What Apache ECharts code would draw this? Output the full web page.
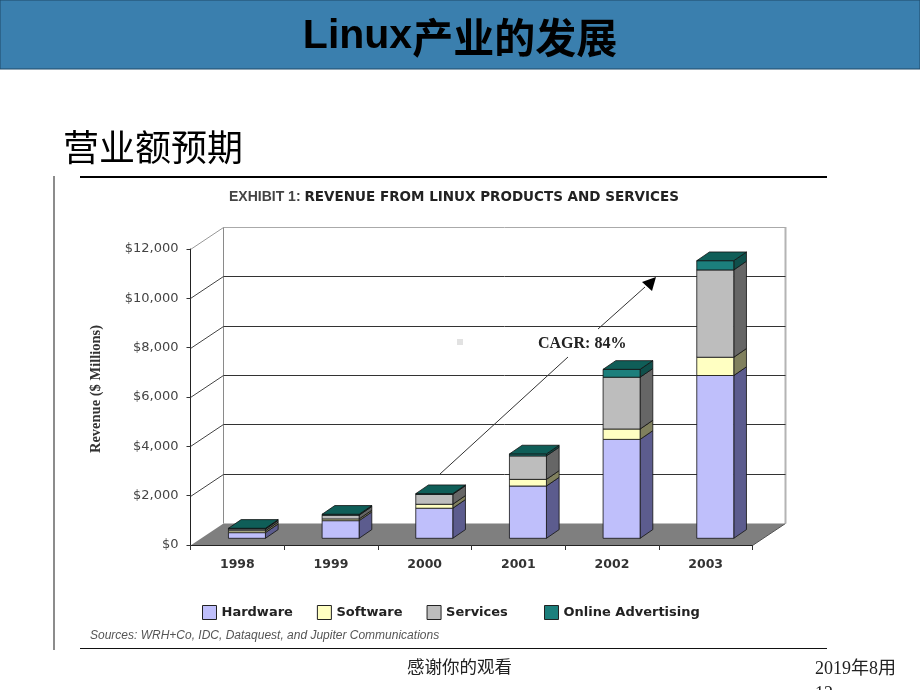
<!DOCTYPE html>
<html>
<head>
<meta charset="utf-8">
<title>Linux产业的发展</title>
<script src="https://cdn.jsdelivr.net/npm/echarts@6/dist/echarts.min.js"></script>
<style>
  html, body { margin: 0; padding: 0; background: #fff; }
  #chart { width: 920px; height: 690px; }
</style>
</head>
<body>
<div id="chart"></div>
<script>
// values, $ millions
const years = ['1998', '1999', '2000', '2001', '2002', '2003'];
const hardware = [230, 715, 1220, 2120, 4010, 6600];
const software = [75, 70, 160, 270, 420, 740];
const services = [70, 150, 400, 950, 2100, 3540];
const advertising = [30, 40, 30, 80, 320, 375];
const valueTicks = [0, 2000, 4000, 6000, 8000, 10000, 12000];
const seriesNames = ['Hardware', 'Software', 'Services', 'Online Advertising'];

const CJK = '"Noto Sans CJK SC"';
const WALL = { dx: 33, dy: -22 };      // back wall offset from the front axis
const BAR = { w: 37, dx: 12.7, dy: -8.7, offX: 9.6, offY: -6.7 };

const myChart = echarts.init(document.getElementById('chart'), null, { renderer: 'canvas' });

function poly(points, fill, stroke, width) {
  return {
    type: 'polygon',
    shape: { points: points },
    style: { fill: fill, stroke: stroke || null, lineWidth: width || 0 }
  };
}

function line(x1, y1, x2, y2, stroke, width) {
  return {
    type: 'line',
    shape: { x1: x1, y1: y1, x2: x2, y2: y2 },
    style: { stroke: stroke, lineWidth: width || 1 }
  };
}

// floor and back wall, one item per value tick
function renderWall(params, api) {
  const value = api.value(0);
  const sys = params.coordSys;
  const left = sys.x;
  const right = sys.x + sys.width;
  const y = Math.round(api.coord([0, value])[1]) + 0.5;
  const backY = y + WALL.dy;
  const bl = left + WALL.dx;
  const br = right + WALL.dx;
  const children = [];
  if (value === 0) {
    children.push(poly([[left, y], [bl, backY], [br, backY], [right, y]], '#7f7f7f'));
    children.push(line(right, y, br, backY, '#555', 1));
    children.push(line(br, backY, br, sys.y + WALL.dy, '#b4b4b4', 2));
    children.push(line(bl, backY, bl, sys.y + WALL.dy, '#8a8a8a', 1));
  } else {
    children.push(line(left, y, bl, backY, value === 12000 ? '#999' : '#444', 1));
    children.push(line(bl, backY, br, backY, value === 12000 ? '#aaa' : '#333', 1));
  }
  return { type: 'group', children: children };
}

// one stacked block of a bar: [year index, base, top]
function renderBlock(front, side, top) {
  return function (params, api) {
    const c = api.coord([api.value(0), 0]);
    const x1 = c[0] - BAR.w / 2 + BAR.offX;
    const x2 = x1 + BAR.w;
    const yLow = api.coord([0, api.value(1)])[1] + BAR.offY;
    const yHigh = api.coord([0, api.value(2)])[1] + BAR.offY;
    const children = [
      poly([[x2, yLow], [x2 + BAR.dx, yLow + BAR.dy], [x2 + BAR.dx, yHigh + BAR.dy], [x2, yHigh]], side, '#111', 0.8),
      poly([[x1, yLow], [x2, yLow], [x2, yHigh], [x1, yHigh]], front, '#111', 0.8)
    ];
    if (top) {
      children.push(poly([[x1, yHigh], [x2, yHigh], [x2 + BAR.dx, yHigh + BAR.dy], [x1 + BAR.dx, yHigh + BAR.dy]], top, '#111', 0.8));
    }
    return { type: 'group', children: children };
  };
}

// stack the four lists into [index, base, top] rows
let running = years.map(function () { return 0; });
function stackRows(values) {
  return values.map(function (v, i) {
    const row = [i, running[i], running[i] + v];
    running[i] += v;
    return row;
  });
}

const blockStyles = [
  { color: '#bfbffb', side: '#5c5c8e' },
  { color: '#ffffc2', side: '#80805e' },
  { color: '#bdbdbd', side: '#666666' },
  { color: '#1c7f7c', side: '#0f4f4b', top: '#0f5e58' }
];

const barSeries = [hardware, software, services, advertising].map(function (values, k) {
  const s = blockStyles[k];
  return {
    name: seriesNames[k],
    type: 'custom',
    silent: true,
    itemStyle: { color: s.color },
    encode: { x: 0, y: [1, 2] },
    renderItem: renderBlock(s.color, s.side, s.top),
    data: stackRows(values)
  };
});

const legendBase = {
  top: 605,
  padding: 0,
  itemWidth: 14,
  itemHeight: 14,
  itemGap: 24,
  icon: 'rect',
  selectedMode: false,
  itemStyle: { borderColor: '#222', borderWidth: 1 },
  textStyle: { fontFamily: 'DejaVu Sans', fontWeight: 'bold', fontSize: 13, color: '#222' }
};

const option = {
  animation: false,
  backgroundColor: '#fff',
  textStyle: { fontFamily: 'Liberation Sans' },
  title: [
    {
      text: '{en|Linux}{cn|产业的发展}',
      left: 'center',
      top: 13,
      padding: 0,
      textStyle: {
        rich: {
          en: { fontFamily: 'Liberation Sans', fontWeight: 'bold', fontSize: 41, color: '#000', lineHeight: 48 },
          cn: { fontFamily: CJK, fontWeight: 'bold', fontSize: 41, color: '#000', lineHeight: 48 }
        }
      }
    },
    {
      text: '营业额预期',
      left: 63,
      top: 129,
      padding: 0,
      textStyle: { fontFamily: CJK, fontWeight: 'normal', fontSize: 36, color: '#000' }
    },
    {
      text: '{a|EXHIBIT 1: }{b|REVENUE FROM LINUX PRODUCTS AND SERVICES}',
      left: 229,
      top: 190,
      padding: 0,
      textStyle: {
        rich: {
          a: { fontFamily: 'Liberation Sans', fontSize: 14, color: '#444' },
          b: { fontFamily: 'DejaVu Sans', fontWeight: 'bold', fontSize: 13.5, color: '#222' }
        }
      }
    },
    {
      text: 'Sources: WRH+Co, IDC, Dataquest, and Jupiter Communications',
      left: 90,
      top: 630,
      padding: 0,
      textStyle: { fontFamily: 'Liberation Sans', fontStyle: 'italic', fontWeight: 'normal', fontSize: 12, color: '#555' }
    },
    {
      text: '感谢你的观看',
      left: 407,
      top: 658,
      padding: 0,
      textStyle: { fontFamily: CJK, fontWeight: 'normal', fontSize: 17.5, color: '#222' }
    },
    {
      text: '2019年8用\n12',
      left: 815,
      top: 657,
      padding: 0,
      textStyle: { fontFamily: 'Liberation Serif, ' + CJK, fontWeight: 'normal', fontSize: 18, lineHeight: 25, color: '#222' }
    }
  ],
  legend: [
    Object.assign({}, legendBase, { left: 202, data: seriesNames.slice(0, 3) }),
    Object.assign({}, legendBase, { left: 544, data: seriesNames.slice(3) })
  ],
  grid: { left: 190.5, top: 249, width: 562, height: 296, containLabel: false },
  xAxis: {
    type: 'category',
    data: years,
    z: 5,
    axisLine: { lineStyle: { color: '#222', width: 1 } },
    axisTick: { show: true, length: 5, lineStyle: { color: '#333' } },
    axisLabel: { fontFamily: 'DejaVu Sans', fontWeight: 'bold', fontSize: 12.5, color: '#333', margin: 13 }
  },
  yAxis: {
    type: 'value',
    min: 0,
    max: 12000,
    interval: 2000,
    z: 5,
    name: 'Revenue ($ Millions)',
    nameLocation: 'middle',
    nameGap: 87,
    nameTextStyle: { fontFamily: 'Liberation Serif', fontWeight: 'bold', fontSize: 14.5, color: '#333', padding: [0, 0, 0, 16] },
    axisLine: { show: true, lineStyle: { color: '#222', width: 1 } },
    axisTick: { show: true, length: 4, lineStyle: { color: '#333' } },
    splitLine: { show: false },
    axisLabel: {
      fontFamily: 'DejaVu Sans',
      fontSize: 13,
      color: '#444',
      margin: 12,
      formatter: function (v) { return '$' + v.toLocaleString('en-US'); }
    }
  },
  series: [
    {
      type: 'custom',
      silent: true,
      renderItem: renderWall,
      encode: { y: 0 },
      data: valueTicks.map(function (v) { return [v]; })
    }
  ].concat(barSeries),
  graphic: [
    { type: 'rect', z: -1, shape: { x: 0, y: 0, width: 920, height: 69 }, style: { fill: '#3a7fae', stroke: '#1f4a68', lineWidth: 1 } },
    { type: 'rect', shape: { x: 53, y: 176, width: 2, height: 474 }, style: { fill: '#8c8c8c' } },
    { type: 'rect', shape: { x: 80, y: 176, width: 747, height: 2 }, style: { fill: '#000' } },
    { type: 'rect', shape: { x: 80, y: 648, width: 747, height: 1 }, style: { fill: '#111' } },
    { type: 'rect', shape: { x: 457, y: 339, width: 6, height: 6 }, style: { fill: '#e2e2e2' } },
    // CAGR arrow, broken around its label
    { type: 'line', z: 10, shape: { x1: 440, y1: 474, x2: 568, y2: 357 }, style: { stroke: '#333', lineWidth: 1 } },
    { type: 'line', z: 10, shape: { x1: 598, y1: 329, x2: 645, y2: 287 }, style: { stroke: '#333', lineWidth: 1 } },
    { type: 'polygon', z: 10, shape: { points: [[656, 277], [642, 282], [652, 291]] }, style: { fill: '#000' } },
    {
      type: 'text', z: 10, x: 538, y: 336,
      style: { text: 'CAGR: 84%', fontFamily: 'Liberation Serif', fontWeight: 'bold', fontSize: 16, fill: '#222' }
    }
  ]
};

myChart.setOption(option);
</script>
</body>
</html>
